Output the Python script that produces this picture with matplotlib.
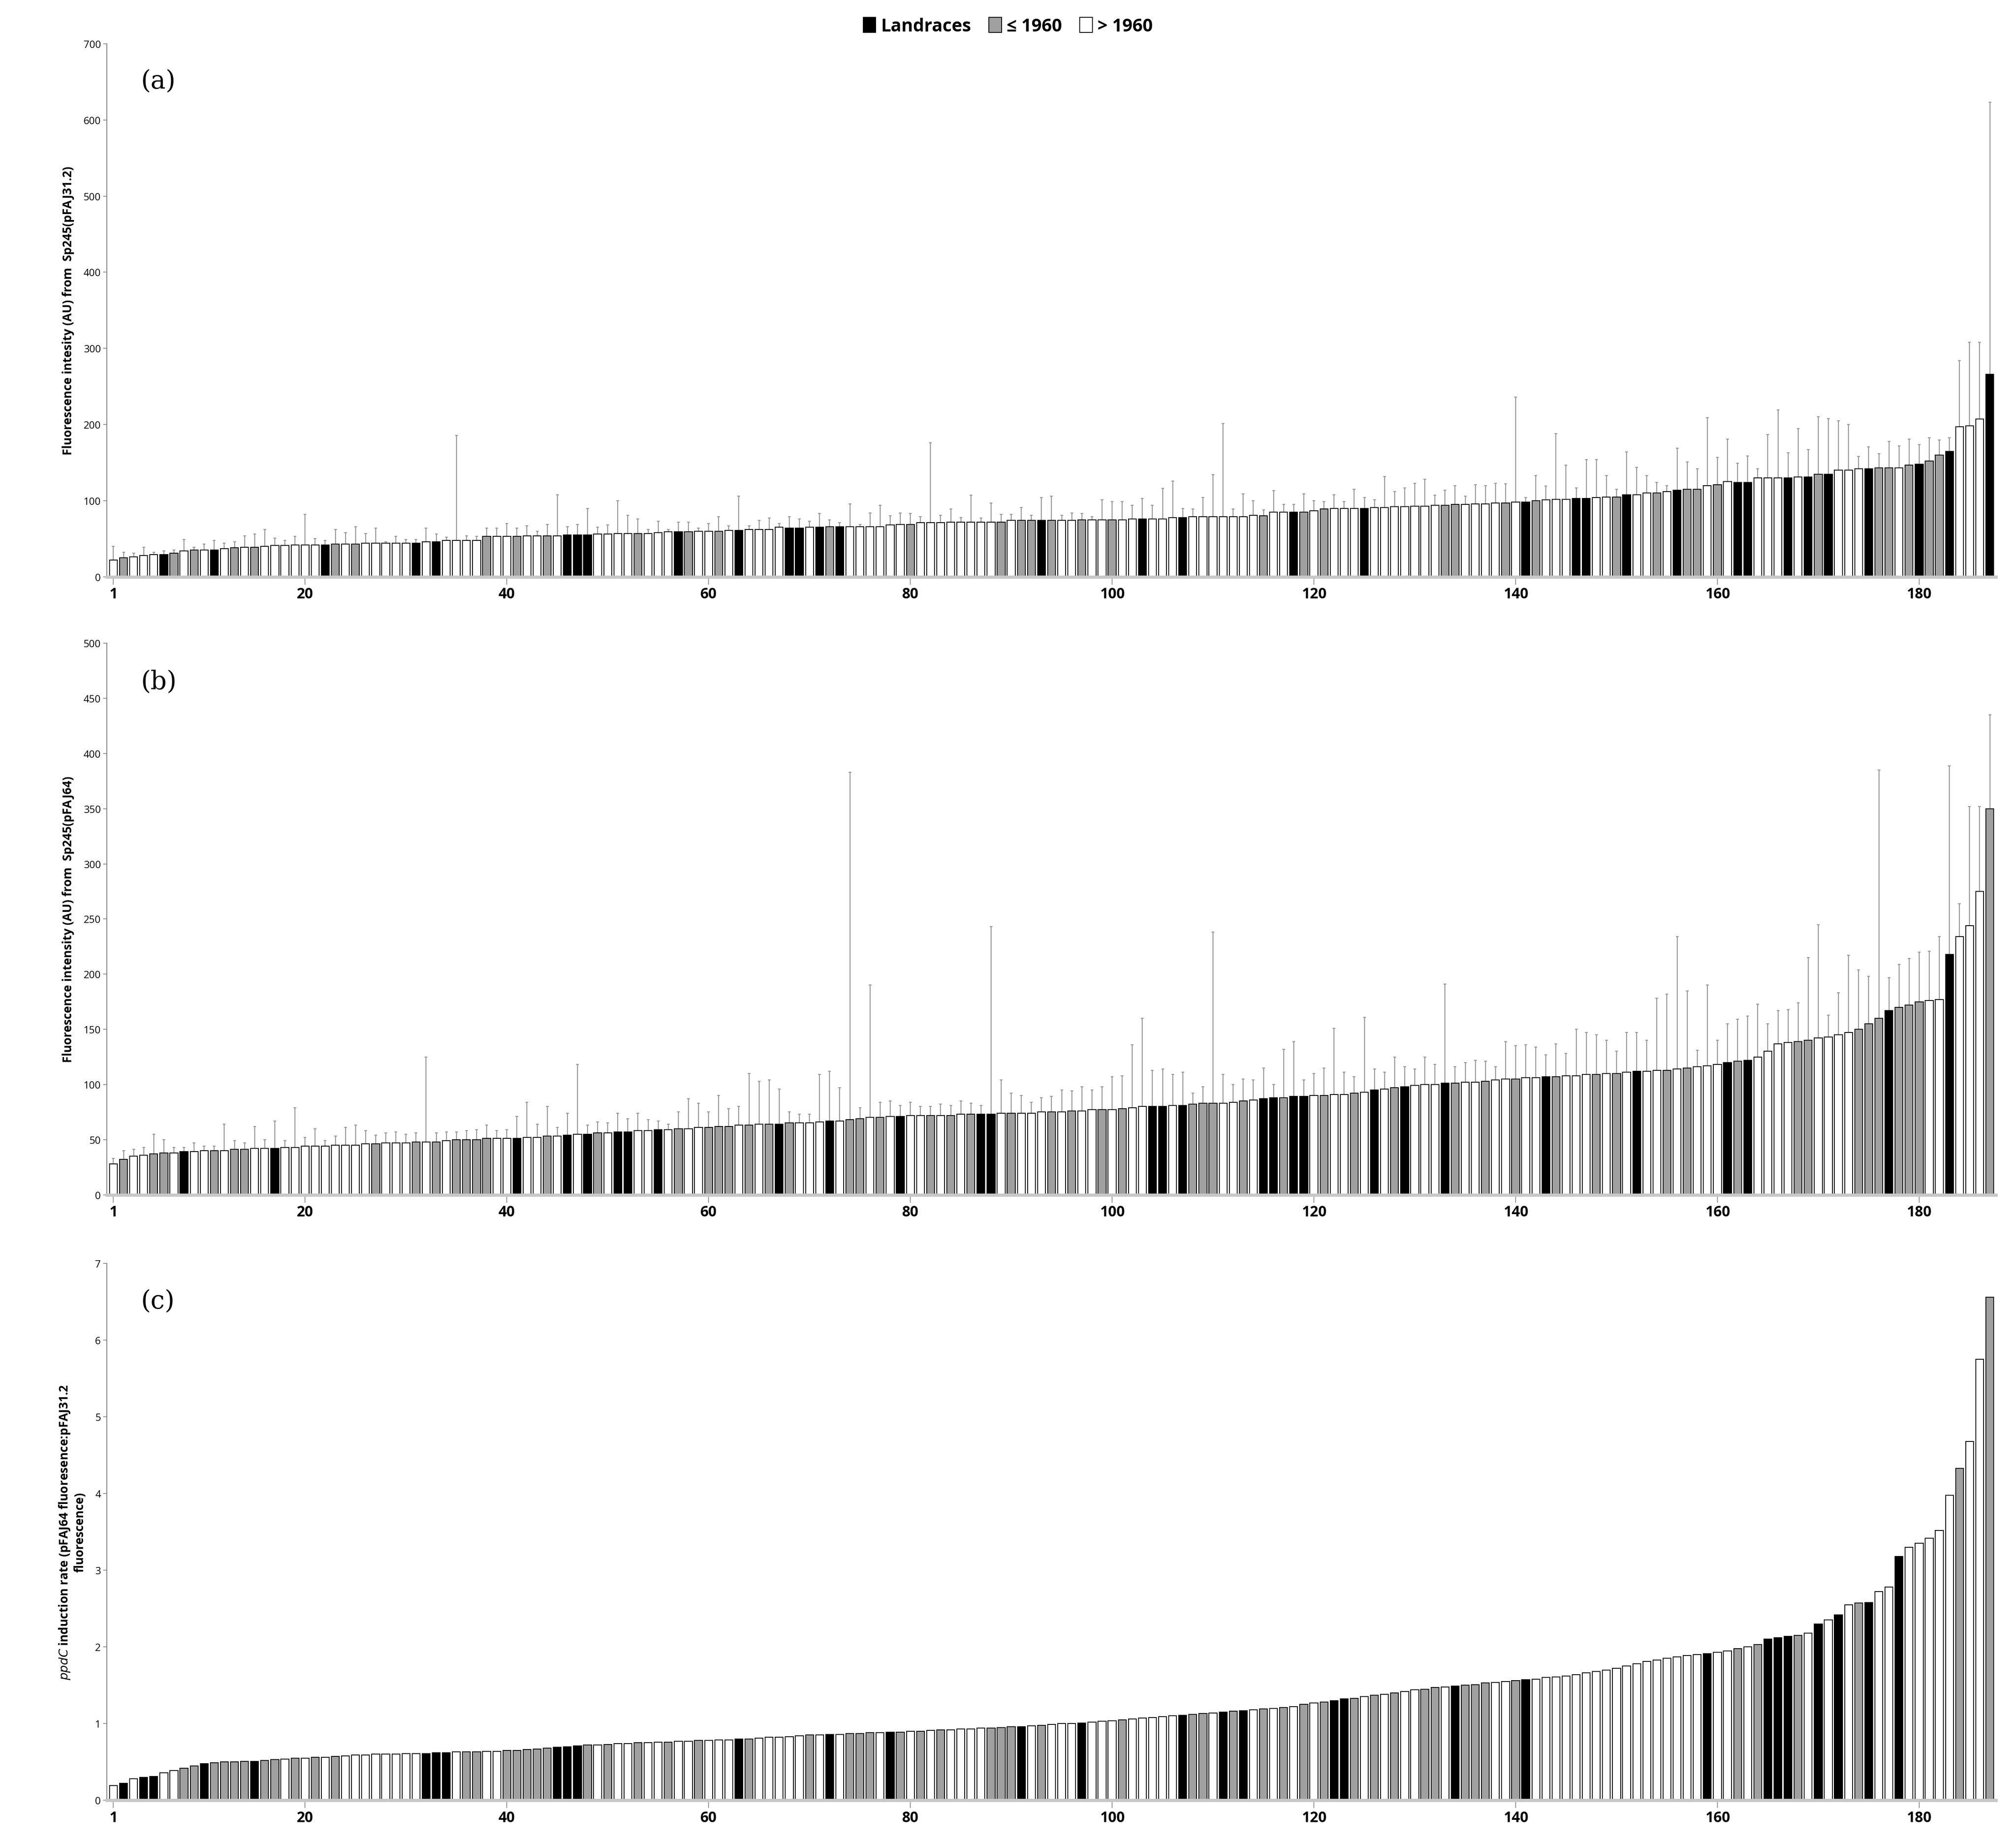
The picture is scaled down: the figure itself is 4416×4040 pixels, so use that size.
import numpy as np
import matplotlib.pyplot as plt

plt.rcParams['font.family'] = ['Open Sans', 'DejaVu Sans']

# category codes: B = landraces, G = <= 1960, W = > 1960
a_vals = [22,25,26,28,29,29,31,34,35,35,
          35,37,38,39,39,40,41,41,42,42,
          42,42,43,43,43,44,44,44,44,44,
          44,46,46,48,48,48,48,53,53,53,
          53,54,54,54,54,55,55,55,56,56,
          57,57,57,57,58,59,59,59,60,60,
          60,61,61,62,62,62,65,64,64,65,
          65,66,66,66,66,66,66,68,69,69,
          71,71,71,72,72,72,72,72,72,74,
          74,74,74,74,74,74,75,75,75,75,
          75,76,76,76,76,78,78,79,79,79,
          79,79,79,81,80,85,85,85,85,87,
          89,90,90,90,90,91,91,92,92,93,
          93,94,94,95,95,96,96,97,97,98,
          98,100,101,102,102,103,103,104,105,105,
          108,108,110,110,112,114,115,115,120,121,
          125,124,124,130,130,130,130,131,131,135,
          135,140,140,142,142,143,143,143,147,148,
          152,160,165,197,198,207,266]
a_err = [18,7,5,11,3,5,4,15,4,8,
         13,7,8,15,17,22,10,7,11,40,
         8,6,19,15,23,13,20,2,9,5,
         5,18,10,4,138,6,5,11,11,17,
         11,13,6,15,54,11,14,35,9,12,
         43,24,19,5,15,3,13,13,4,10,
         19,6,45,5,12,15,5,15,12,8,
         18,9,5,30,3,18,28,12,15,14,
         8,105,10,17,6,35,5,25,10,8,
         17,7,30,32,7,10,8,4,26,24,
         24,18,27,18,40,48,12,10,25,55,
         122,10,30,19,8,28,10,10,24,13,
         10,18,9,25,14,10,41,20,25,30,
         35,13,20,25,11,25,24,26,25,138,
         6,33,18,86,45,14,51,50,28,10,
         56,36,23,14,8,55,36,27,89,36,
         56,25,35,12,57,89,33,64,36,75,
         73,65,60,16,29,19,35,29,34,26,
         31,20,18,87,110,101,357]
a_black = [6,11,22,31,33,46,47,48,57,63,68,69,71,73,93,103,107,118,125,141,146,147,
           151,156,162,163,167,169,171,175,180,183,187]
a_gray = [2,7,9,13,15,23,25,38,41,44,53,58,61,72,80,89,91,92,94,97,100,115,119,121,
          133,134,139,142,150,154,157,158,160,170,176,177,179,181,182]

b_vals = [28,32,35,36,37,38,38,39,39,40,
          40,40,41,41,42,42,42,43,43,44,
          44,44,45,45,45,46,46,47,47,47,
          48,48,48,49,50,50,50,51,51,51,
          51,52,52,53,53,54,55,55,56,56,
          57,57,58,58,59,59,60,60,61,61,
          62,62,63,63,64,64,64,65,65,65,
          66,67,67,68,69,70,70,71,71,72,
          72,72,72,72,73,73,73,73,74,74,
          74,74,75,75,75,76,76,77,77,77,
          78,79,80,80,80,81,81,82,83,83,
          83,84,85,86,87,88,88,89,89,90,
          90,91,91,92,93,95,96,97,98,99,
          100,100,101,101,102,102,103,104,105,105,
          106,106,107,107,108,108,109,109,110,110,
          111,112,112,113,113,114,115,116,117,118,
          120,121,122,125,130,137,138,139,140,142,
          143,145,147,150,155,160,167,170,172,175,
          176,177,218,234,244,275,350]
b_err = [5,8,6,7,18,12,5,4,8,4,
         4,24,8,6,20,8,25,6,36,8,
         16,5,8,16,18,12,8,9,10,8,
         8,77,8,8,7,8,9,12,7,8,
         20,32,12,27,8,20,63,8,10,9,
         17,12,16,10,8,5,15,27,22,14,
         28,16,17,47,39,40,32,10,8,8,
         43,45,30,315,10,120,14,14,10,12,
         8,8,10,9,12,10,8,170,30,18,
         16,10,13,14,20,18,22,18,21,30,
         30,57,80,33,34,28,30,10,15,155,
         26,16,20,18,28,12,44,50,15,20,
         25,60,20,15,68,19,15,28,18,15,
         25,18,90,15,18,20,18,12,34,30,
         30,28,20,30,20,42,38,36,30,20,
         36,35,28,65,69,120,70,15,73,22,
         35,38,40,48,25,30,30,35,75,103,
         20,38,70,54,43,225,30,39,42,45,
         45,57,171,30,108,77,85]
b_black = [8,17,41,46,48,51,52,55,67,72,79,87,88,104,105,107,115,116,118,119,126,129,
           133,143,152,161,163,177,183]
b_gray = [2,5,6,11,13,14,27,31,33,35,36,37,38,44,49,57,60,61,62,64,66,68,74,75,77,82,
          84,86,90,94,96,99,101,108,109,110,113,117,121,124,128,134,137,140,144,148,150,
          155,157,162,168,169,174,175,176,178,179,180,187]

c_vals = [0.19,0.22,0.28,0.30,0.31,0.36,0.39,0.42,0.45,0.48,
          0.49,0.50,0.50,0.51,0.51,0.52,0.53,0.54,0.55,0.55,
          0.56,0.56,0.57,0.58,0.59,0.59,0.60,0.60,0.60,0.61,
          0.61,0.61,0.62,0.62,0.63,0.63,0.63,0.64,0.64,0.65,
          0.65,0.66,0.67,0.68,0.69,0.70,0.71,0.72,0.72,0.73,
          0.74,0.74,0.75,0.75,0.76,0.76,0.77,0.77,0.78,0.78,
          0.79,0.79,0.80,0.80,0.81,0.82,0.82,0.83,0.84,0.85,
          0.85,0.86,0.86,0.87,0.87,0.88,0.88,0.89,0.89,0.90,
          0.90,0.91,0.92,0.92,0.93,0.93,0.94,0.94,0.95,0.96,
          0.96,0.97,0.98,0.99,1.00,1.00,1.01,1.02,1.03,1.04,
          1.05,1.06,1.07,1.08,1.09,1.10,1.11,1.12,1.13,1.14,
          1.15,1.16,1.17,1.18,1.19,1.20,1.21,1.22,1.25,1.27,
          1.28,1.30,1.32,1.33,1.35,1.37,1.38,1.40,1.42,1.44,
          1.45,1.47,1.48,1.49,1.50,1.51,1.53,1.54,1.55,1.56,
          1.57,1.58,1.60,1.61,1.62,1.64,1.66,1.68,1.70,1.72,
          1.75,1.78,1.81,1.83,1.85,1.87,1.89,1.90,1.91,1.93,
          1.95,1.98,2.00,2.03,2.10,2.12,2.14,2.15,2.18,2.30,
          2.35,2.42,2.55,2.57,2.58,2.72,2.78,3.18,3.30,3.35,
          3.42,3.52,3.98,4.33,4.68,5.75,6.56]
c_black = [2,4,5,10,15,32,33,34,45,46,47,63,72,78,91,97,107,111,113,122,123,134,141,
           159,165,166,167,170,172,175,178]
c_gray = [8,9,11,12,13,14,16,17,19,21,23,36,37,40,41,42,43,44,48,50,53,56,59,64,70,74,
          75,76,79,81,83,88,89,90,93,101,108,109,112,115,117,119,121,124,126,128,131,
          132,135,136,137,140,162,164,168,174,184,187]

xticks = [1, 20, 40, 60, 80, 100, 120, 140, 160, 180]
GRAY = '#a0a0a0'


def colours(n, black, gray):
    cols = ['white'] * n
    for i in black:
        cols[i - 1] = 'black'
    for i in gray:
        cols[i - 1] = GRAY
    return cols


def draw_panel(ax, vals, black, gray, err, ymax, ystep, label, ylab):
    x = np.arange(1, len(vals) + 1)
    ax.bar(x, vals, width=0.78, color=colours(len(vals), black, gray),
           edgecolor='black', linewidth=1.3, zorder=2)
    if err is not None:
        ax.errorbar(x, vals, yerr=[np.zeros(len(err)), err], fmt='none',
                    ecolor='#999999', elinewidth=1.6, capsize=2.5, capthick=1.6, zorder=1)
    ax.set_xlim(0.35, 187.6)
    ax.set_ylim(0, ymax)
    ax.set_yticks(np.arange(0, ymax + ystep / 2, ystep))
    ax.set_xticks(xticks)
    ax.tick_params(axis='y', labelsize=16, length=6, width=1.2, color='#888888')
    ax.tick_params(axis='x', labelsize=23, length=12, width=1.2, color='#888888')
    for t in ax.get_xticklabels():
        t.set_fontweight('bold')
    for s in ['top', 'right']:
        ax.spines[s].set_visible(False)
    ax.spines['left'].set_color('#888888')
    ax.spines['left'].set_linewidth(1.5)
    ax.spines['bottom'].set_color('#c8c8c8')
    ax.spines['bottom'].set_linewidth(5)
    ax.text(0.018, 0.93, label, transform=ax.transAxes, fontsize=40,
            family='DejaVu Serif', va='center')
    ax.set_ylabel(ylab, fontsize=19, fontweight='bold', labelpad=14)


fig = plt.figure(figsize=(44.16, 40.41), dpi=100)
ax_a = fig.add_axes([0.053, 0.687, 0.937, 0.289])
ax_b = fig.add_axes([0.053, 0.352, 0.937, 0.299])
ax_c = fig.add_axes([0.053, 0.0237, 0.937, 0.291])

draw_panel(ax_a, a_vals, a_black, a_gray, a_err, 700, 100, '(a)',
           'Fluorescence intesity (AU) from  Sp245(pFAJ31.2)')
draw_panel(ax_b, b_vals, b_black, b_gray, b_err, 500, 50, '(b)',
           'Fluorescence intensity (AU) from  Sp245(pFAJ64)')
draw_panel(ax_c, c_vals, c_black, c_gray, None, 7, 1, '(c)',
           '$\\bf{\\it{ppdC}}$ induction rate (pFAJ64 fluoresence:pFAJ31.2\nfluorescence)')

handles = [plt.Rectangle((0, 0), 1, 1, facecolor=c, edgecolor='black', linewidth=1.3)
           for c in ['black', GRAY, 'white']]
fig.legend(handles, ['Landraces', '≤ 1960', '> 1960'], loc='upper center',
           bbox_to_anchor=(0.5, 0.999), ncol=3, frameon=False,
           handlelength=0.7, handleheight=0.9, handletextpad=0.3, columnspacing=1.0,
           prop={'weight': 'bold', 'size': 28})

fig.savefig('out.png', dpi=100)
